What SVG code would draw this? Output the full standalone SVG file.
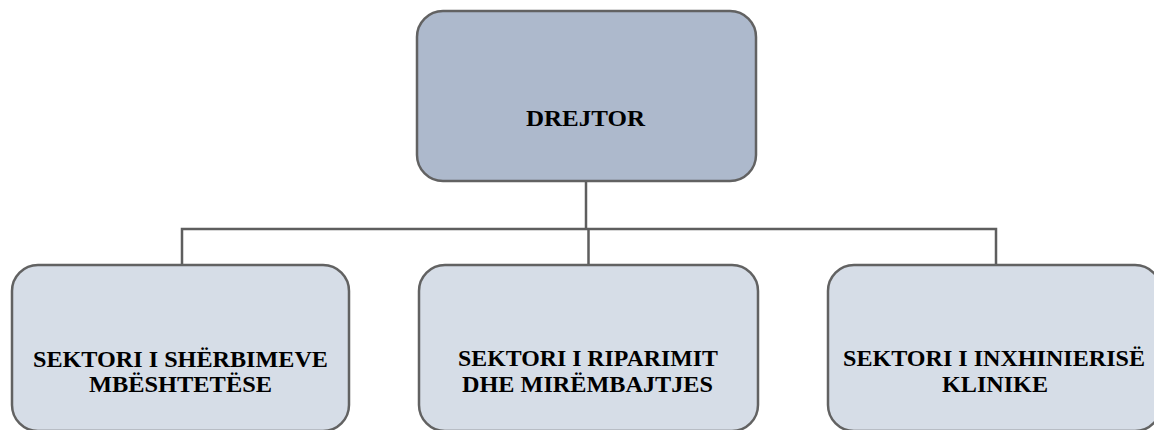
<svg xmlns="http://www.w3.org/2000/svg" width="1154" height="430" viewBox="0 0 1154 430">
  <style>
    .box { stroke: #626262; stroke-width: 2.5; }
    .head { fill: #adb9cc; }
    .unit { fill: #d6dde7; }
    .lbl { font-family: 'Liberation Serif', 'Times New Roman', Times, serif; font-weight: 700; font-size: 23px; fill: #000; text-anchor: middle; }
    .big { font-size: 24px; }
    .link { fill: none; stroke: #5e5e5e; stroke-width: 2.5; }
  </style>
  <rect width="1154" height="430" fill="#ffffff"/>

  <g id="connectors">
    <path class="link" d="M586 181 V229"/>
    <path class="link" d="M182 265 V229 H996 V265"/>
    <path class="link" d="M588.5 229 V265"/>
  </g>

  <g id="drejtor">
    <rect class="box head" x="417" y="11" width="339" height="170" rx="26" ry="26"/>
    <text class="lbl big" x="585.5" y="126" textLength="119" lengthAdjust="spacingAndGlyphs">DREJTOR</text>
  </g>

  <g id="sherbimeve">
    <rect class="box unit" x="12" y="265" width="337" height="166" rx="26" ry="26"/>
    <text class="lbl" x="180.5" y="367" textLength="295" lengthAdjust="spacingAndGlyphs">SEKTORI I SHËRBIMEVE</text>
    <text class="lbl" x="180.5" y="392" textLength="183" lengthAdjust="spacingAndGlyphs">MBËSHTETËSE</text>
  </g>

  <g id="riparimit">
    <rect class="box unit" x="419" y="265" width="339" height="166" rx="26" ry="26"/>
    <text class="lbl" x="588" y="366" textLength="260" lengthAdjust="spacingAndGlyphs">SEKTORI I RIPARIMIT</text>
    <text class="lbl" x="587.5" y="392" textLength="251" lengthAdjust="spacingAndGlyphs">DHE MIRËMBAJTJES</text>
  </g>

  <g id="inxhinierise">
    <rect class="box unit" x="828" y="265" width="333" height="166" rx="26" ry="26"/>
    <text class="lbl" x="994" y="366" textLength="302" lengthAdjust="spacingAndGlyphs">SEKTORI I INXHINIERISË</text>
    <text class="lbl" x="995" y="392" textLength="106" lengthAdjust="spacingAndGlyphs">KLINIKE</text>
  </g>
</svg>
